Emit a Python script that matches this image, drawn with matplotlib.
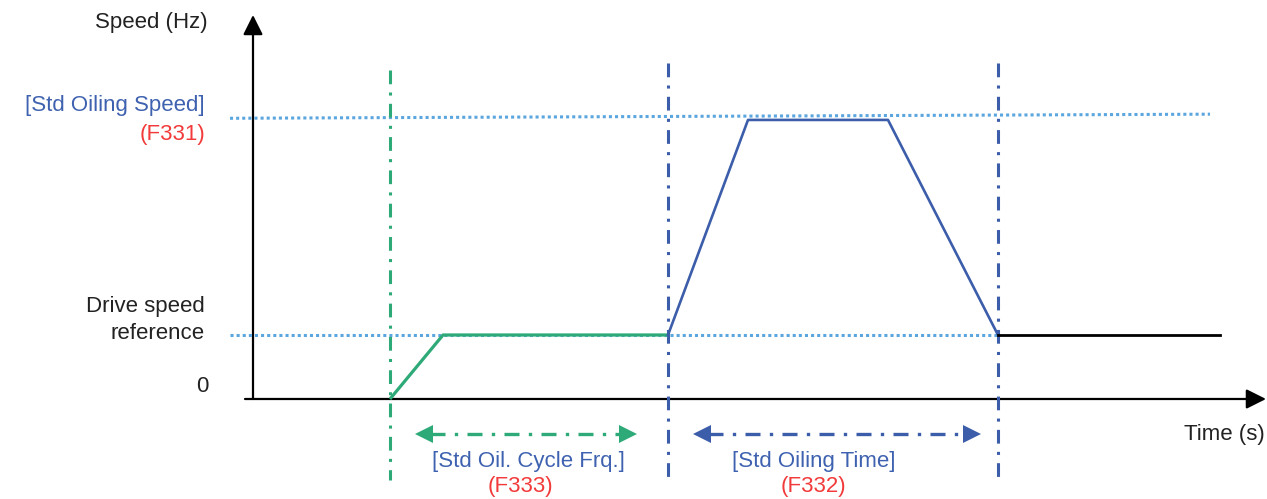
import matplotlib
matplotlib.use("Agg")
import matplotlib.pyplot as plt
from matplotlib.patches import FancyArrowPatch

plt.rcParams['font.family'] = ['Liberation Sans', 'DejaVu Sans']

# %% data (time in arbitrary units, speed relative to drive reference)
green_t = [13.7, 19.0, 41.5]
green_s = [0.0, 1.0, 1.0]
blue_t = [41.5, 49.5, 63.5, 74.5]
blue_s = [1.0, 4.36, 4.36, 1.0]
black_t = [74.5, 96.7]
black_s = [1.0, 1.0]
oil_line_t = [-2.3, 95.7]
oil_line_s = [4.386, 4.45]
ref_line_t = [-2.3, 74.5]
ref_line_s = [1.0, 1.0]
cycle_start, oil_start, oil_end = 13.7, 41.5, 74.5

GREEN = '#2EAA78'
BLUE = '#3C5DAA'
LBLUE = '#5BA6DE'
RED = '#F23A3A'
TXTBLUE = '#3F62B0'

fig = plt.figure(figsize=(12.67, 4.99), dpi=100)
ax = fig.add_axes([0, 0, 1, 1])
ax.set_xlim(-25.3, 101.4)
ax.set_ylim(-1.5625, 6.234)
ax.axis('off')

# %% axes arrows
ax.add_patch(FancyArrowPatch((0, 0), (0, 6.0), arrowstyle='-|>', mutation_scale=30,
                             color='black', lw=1.6, shrinkA=0, shrinkB=0))
ax.add_patch(FancyArrowPatch((-0.8, 0), (101.3, 0), arrowstyle='-|>', mutation_scale=30,
                             color='black', lw=1.6, shrinkA=0, shrinkB=0))

# %% reference dotted lines
ax.plot(oil_line_t, oil_line_s, color=LBLUE, lw=2.2, ls=(0, (1, 1)))
ax.plot(ref_line_t, ref_line_s, color=LBLUE, lw=2.2, ls=(0, (1, 1)))

# %% vertical event lines
dashdot = (0, (4.5, 2.7, 1, 2.7))
ax.plot([cycle_start, cycle_start], [5.14, -1.27], color=GREEN, lw=2.2, ls=dashdot)
ax.plot([oil_start, oil_start], [5.25, -1.23], color=BLUE, lw=2.2, ls=dashdot)
ax.plot([oil_end, oil_end], [5.25, -1.23], color=BLUE, lw=2.2, ls=dashdot)

# %% speed profile
ax.plot(green_t, green_s, color=GREEN, lw=2.3, solid_capstyle='butt')
ax.plot(blue_t, blue_s, color=BLUE, lw=1.9)
ax.plot(black_t, black_s, color='black', lw=2.0)

# %% duration arrows
def span_arrow(x0, x1, y, c):
    ax.plot([x0 + 1.5, x1 - 1.5], [y, y], color=c, lw=2.4, ls=(0, (4.5, 2.8, 1, 2.8)))
    ax.plot([x0 + 0.85], [y], marker='<', color=c, ms=13, mew=0)
    ax.plot([x1 - 0.85], [y], marker='>', color=c, ms=13, mew=0)

span_arrow(16.2, 38.3, -0.55, GREEN)
span_arrow(44.0, 72.7, -0.55, BLUE)

# %% labels
fs = 16
ax.text(-4.5, 5.89, 'Speed (Hz)', ha='right', va='center', fontsize=fs, color='#222222')
ax.text(-4.8, 4.59, '[Std Oiling Speed]', ha='right', va='center', fontsize=fs, color=TXTBLUE)
ax.text(-4.8, 4.125, '(F331)', ha='right', va='center', fontsize=fs, color=RED)
ax.text(-4.8, 1.44, 'Drive speed', ha='right', va='center', fontsize=fs, color='#222222')
ax.text(-4.8, 1.03, 'reference', ha='right', va='center', fontsize=fs, color='#222222')
ax.text(-4.5, 0.19, '0', ha='right', va='center', fontsize=fs, color='#222222')
ax.text(101.2, -0.56, 'Time (s)', ha='right', va='center', fontsize=fs, color='#222222')
ax.text(27.5, -0.98, '[Std Oil. Cycle Frq.]', ha='center', va='center', fontsize=fs, color=TXTBLUE)
ax.text(26.7, -1.375, '(F333)', ha='center', va='center', fontsize=fs, color=RED)
ax.text(56.1, -0.98, '[Std Oiling Time]', ha='center', va='center', fontsize=fs, color=TXTBLUE)
ax.text(56.0, -1.375, '(F332)', ha='center', va='center', fontsize=fs, color=RED)

fig.savefig('out.png', dpi=100)
